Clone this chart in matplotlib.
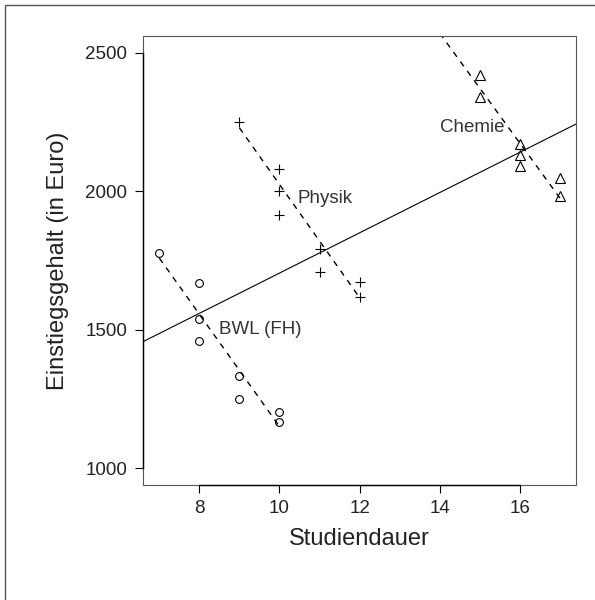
import numpy as np
import matplotlib
matplotlib.use('Agg')
import matplotlib.pyplot as plt
from matplotlib.patches import Rectangle

# ---------------------------------------------------
# Daten
# ---------------------------------------------------
bwl_dauer = [7, 8, 8, 8, 9, 9, 10, 10]
bwl_gehalt = [1775, 1667, 1540, 1459, 1334, 1250, 1202, 1167]

physik_dauer = [9, 10, 10, 10, 11, 11, 12, 12]
physik_gehalt = [2248, 2081, 2000, 1915, 1792, 1708, 1670, 1618]

chemie_dauer = [15, 15, 16, 16, 16, 17, 17]
chemie_gehalt = [2420, 2338, 2171, 2129, 2089, 2049, 1981]

# Regressionsgeraden: (Achsenabschnitt, Steigung)
gesamt_fit = (977, 72.7)
bwl_fit = (3177, -202.7)
physik_fit = (4067, -204.3)
chemie_fit = (5346, -198.3)
bwl_bereich = [7, 10]
physik_bereich = [9, 12]
chemie_bereich = [14, 17]

labels = ['BWL (FH)', 'Physik', 'Chemie']
label_pos = [(8.5, 1500), (10.45, 1975), (14.0, 2230)]
# ---------------------------------------------------

plt.rcParams['font.family'] = ['Liberation Sans', 'DejaVu Sans']
textfarbe = '#222222'

fig = plt.figure(figsize=(5.95, 6.0), dpi=100)
ax = fig.add_axes([0.2408, 0.1922, 0.7272, 0.7478])

# Rahmen um die ganze Grafik
fig.patches.append(Rectangle((5 / 595, -0.1), 1.2, 1.1 - 5 / 600, transform=fig.transFigure,
                             fill=False, edgecolor='#555555', linewidth=1.0))

mk = dict(linestyle='none', markerfacecolor='none', markeredgecolor='black', markeredgewidth=0.8)
ax.plot(bwl_dauer, bwl_gehalt, marker='o', markersize=5.6, **mk)
ax.plot(physik_dauer, physik_gehalt, marker='+', markersize=7.5, **mk)
ax.plot(chemie_dauer, chemie_gehalt, marker='^', markersize=7, **mk)

# Gesamtgerade
ax.axline((0, gesamt_fit[0]), slope=gesamt_fit[1], color='black', linewidth=0.8)

# Gruppengeraden gestrichelt
for fit, bereich in [(bwl_fit, bwl_bereich), (physik_fit, physik_bereich), (chemie_fit, chemie_bereich)]:
    xs = np.array(bereich, dtype=float)
    ax.plot(xs, fit[0] + fit[1] * xs, color='black', linewidth=1.0, linestyle=(0, (4.2, 4.2)))

for txt, (tx, ty) in zip(labels, label_pos):
    ax.text(tx, ty, txt, fontsize=13.5, color='#333333', ha='left', va='center')

ax.set_xlim(6.6, 17.4)
ax.set_ylim(940, 2560)
ax.set_xticks([8, 10, 12, 14, 16])
ax.set_yticks([1000, 1500, 2000, 2500])

# Box grau, Achsenlinien schwarz
for s in ['top', 'right']:
    ax.spines[s].set_visible(False)
ax.add_patch(Rectangle((0, 0), 1, 1, transform=ax.transAxes, fill=False,
                       edgecolor='#555555', linewidth=0.8, clip_on=False, zorder=3))
ax.spines['bottom'].set_bounds(8, 16)
ax.spines['left'].set_bounds(1000, 2500)
ax.spines['bottom'].set_linewidth(1.0)
ax.spines['left'].set_linewidth(1.0)
ax.spines['bottom'].set_zorder(4)
ax.spines['left'].set_zorder(4)

ax.tick_params(axis='both', direction='out', length=5.8, width=0.8, labelsize=13.5,
               labelcolor=textfarbe)
ax.tick_params(axis='x', pad=5)
ax.tick_params(axis='y', pad=5.6)

ax.set_xlabel('Studiendauer', fontsize=17, color=textfarbe, labelpad=8)
ax.set_ylabel('Einstiegsgehalt (in Euro)', fontsize=17, color=textfarbe, labelpad=11.5)

fig.savefig('out.png', dpi=100)
